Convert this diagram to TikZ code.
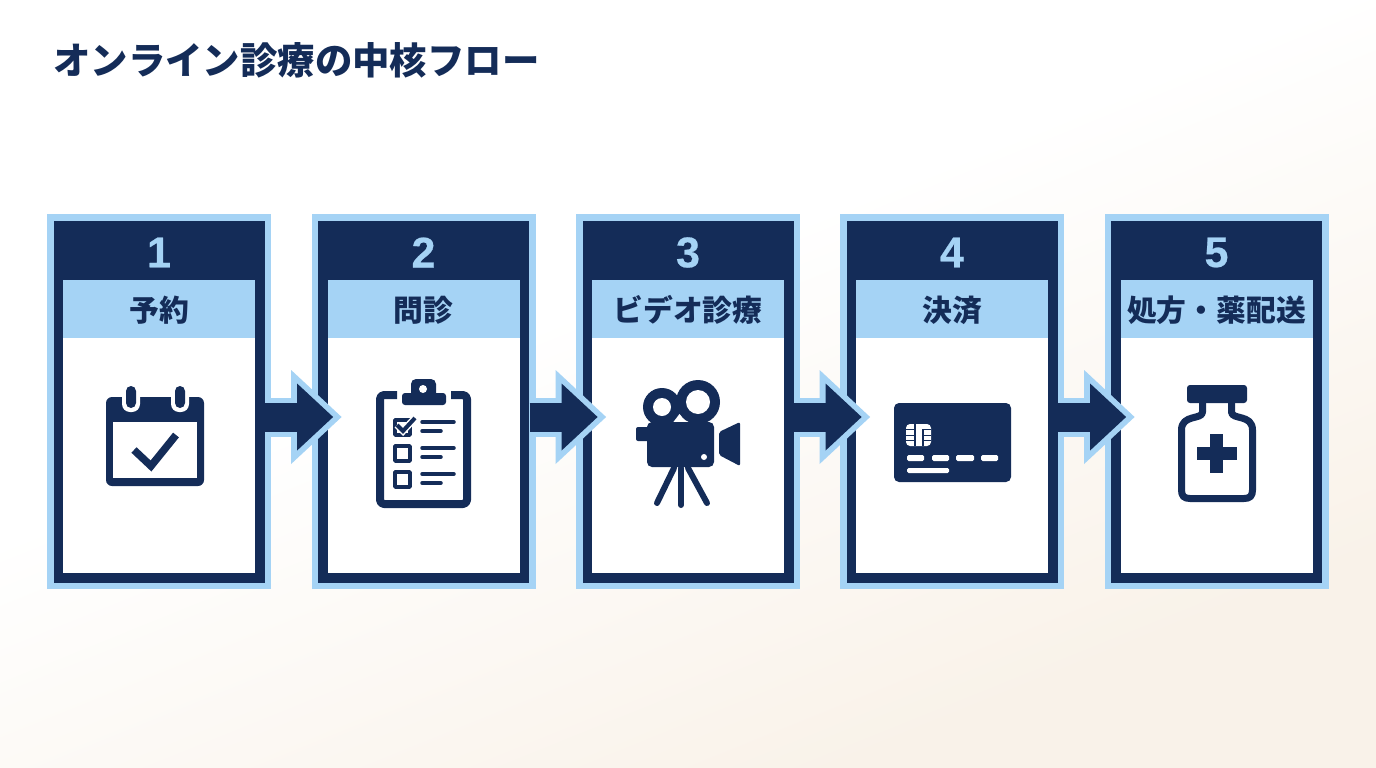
\documentclass[tikz,border=0pt]{standalone}
\usepackage{fontspec}
\setmainfont{Noto Sans CJK JP}
\newfontfamily\numfont{Liberation Sans}[BoldFeatures={FakeBold=0.5}]
\usetikzlibrary{arrows.meta}
\definecolor{navy}{HTML}{142C58}
\definecolor{skyblue}{HTML}{A5D3F5}
\definecolor{sandbg}{HTML}{F9F2E9}
\pgfdeclareverticalshading{pagebg}{100bp}{color(0bp)=(sandbg); color(28bp)=(sandbg); color(56bp)=(white); color(100bp)=(white)}
\tikzset{
  cardbox/.style={draw=skyblue,fill=navy,line width=6.5pt,minimum width=217.5pt,minimum height=368.5pt,inner sep=0pt,outer sep=3.25pt},
  bandbox/.style={fill=skyblue,text=navy,minimum width=192pt,minimum height=58pt,inner sep=0pt,font=\fontsize{29.8}{31}\selectfont\bfseries,text height=26pt,text depth=2pt},
  bodybox/.style={fill=white,minimum width=192pt,minimum height=235pt,inner sep=0pt},
  numtext/.style={text=skyblue,inner sep=0pt,font=\numfont\fontsize{43}{45}\selectfont\bfseries},
  linkouter/.style={draw=skyblue,line width=39pt,shorten >=-30.1pt,-{Triangle[length=50.5pt,width=94pt,line width=0pt]}},
  linkinner/.style={draw=navy,line width=29pt,shorten >=-21.6pt,-{Triangle[length=36pt,width=67pt,line width=0pt]}},
  icon/.style={fill=navy},
  iconhole/.style={fill=white},
  iconline/.style={draw=navy,line width=#1,line cap=round,line join=round},
  iconline/.default=3.5pt,
}
\begin{document}
\begin{tikzpicture}[x=1pt,y=-1pt]
  \useasboundingbox (0,0) rectangle (1376,768);
  \shade[shading=pagebg,shading angle=22] (0,0) rectangle (1376,768);

  \node[anchor=west,inner sep=0pt,text=navy,font=\fontsize{37.4}{40}\selectfont\bfseries] (title) at (53,60) {オンライン診療の中核フロー};

  % cards
  \node[cardbox] (card1) at (159,401.5) {};
  \node[cardbox] (card2) at (423.5,401.5) {};
  \node[cardbox] (card3) at (688,401.5) {};
  \node[cardbox] (card4) at (952,401.5) {};
  \node[cardbox] (card5) at (1216.5,401.5) {};

  \node[numtext] (num1) at (159,252.5) {1};
  \node[numtext] (num2) at (423.5,252.5) {2};
  \node[numtext] (num3) at (688,252.5) {3};
  \node[numtext] (num4) at (952,252.5) {4};
  \node[numtext] (num5) at (1216.5,252.5) {5};

  \node[bandbox] (band1) at (159,309) {予約};
  \node[bandbox] (band2) at (423.5,309) {問診};
  \node[bandbox] (band3) at (688,309) {ビデオ診療};
  \node[bandbox] (band4) at (952,309) {決済};
  \node[bandbox] (band5) at (1216.5,309) {処方・薬配送};

  \node[bodybox] (body1) at (159,455.5) {};
  \node[bodybox] (body2) at (423.5,455.5) {};
  \node[bodybox] (body3) at (688,455.5) {};
  \node[bodybox] (body4) at (952,455.5) {};
  \node[bodybox] (body5) at (1216.5,455.5) {};

  % arrows between cards
  \draw[linkouter] ([yshift=-15.5pt]card1.east) -- ([yshift=-15.5pt]card2.west);
  \draw[linkinner] ([yshift=-15.5pt,xshift=-6pt]card1.east) -- ([yshift=-15.5pt]card2.west);
  \draw[linkouter] ([yshift=-15.5pt]card2.east) -- ([yshift=-15.5pt]card3.west);
  \draw[linkinner] ([yshift=-15.5pt,xshift=-6pt]card2.east) -- ([yshift=-15.5pt]card3.west);
  \draw[linkouter] ([yshift=-15.5pt]card3.east) -- ([yshift=-15.5pt]card4.west);
  \draw[linkinner] ([yshift=-15.5pt,xshift=-6pt]card3.east) -- ([yshift=-15.5pt]card4.west);
  \draw[linkouter] ([yshift=-15.5pt]card4.east) -- ([yshift=-15.5pt]card5.west);
  \draw[linkinner] ([yshift=-15.5pt,xshift=-6pt]card4.east) -- ([yshift=-15.5pt]card5.west);

  % calendar
  \fill[icon,rounded corners=6pt] (106,397) rectangle (204,486);
  \fill[iconhole] (113,422) rectangle (197,478);
  \fill[iconhole,rounded corners=8pt] (122,380) rectangle (140,412);
  \fill[iconhole,rounded corners=8pt] (171,380) rectangle (189,412);
  \fill[iconhole] (118,380) rectangle (194,397);
  \fill[icon,rounded corners=5pt] (126,386) rectangle (136,408);
  \fill[icon,rounded corners=5pt] (175,386) rectangle (185,408);
  \draw[iconline=7.5pt,line cap=butt,line join=miter] (134,450) -- (151,466) -- (176,435);

  % clipboard
  \draw[iconline=8pt,line cap=butt,rounded corners=4pt] (397,395) -- (380,395) -- (380,504) -- (467,504) -- (467,395) -- (451,395);
  \fill[icon,rounded corners=3pt] (402,393) rectangle (446,405);
  \fill[icon,rounded corners=5pt] (411,379) rectangle (436,398);
  \fill[iconhole] (423,389) circle (4);
  \draw[iconline=3.5pt,line cap=butt] (395,420) rectangle (410,435);
  \draw[iconline=3.5pt,line cap=butt] (395,446) rectangle (410,461);
  \draw[iconline=3.5pt,line cap=butt] (395,472) rectangle (410,487);
  \draw[draw=white,line width=7pt] (397,425) -- (403,431) -- (415,418);
  \draw[iconline=4pt,line cap=butt,line join=miter] (397,425) -- (403,431) -- (415,418);
  \draw[iconline] (422,422) -- (454,422);
  \draw[iconline] (422,431) -- (441,431);
  \draw[iconline] (422,448) -- (454,448);
  \draw[iconline] (422,457) -- (441,457);
  \draw[iconline] (422,474) -- (454,474);
  \draw[iconline] (422,483) -- (441,483);

  % camera
  \fill[icon] (662,407) circle (19);
  \fill[icon] (698,402) circle (22);
  \fill[iconhole] (662,407) circle (9);
  \fill[iconhole] (698,402) circle (12);
  \fill[iconhole] (679.5,414) -- (686,422.5) -- (673,422.5) -- cycle;
  \fill[icon,rounded corners=5pt] (647,422) rectangle (714,467);
  \fill[icon,rounded corners=2pt] (636,427) rectangle (650,441);
  \fill[icon,rounded corners=2pt] (719,432) -- (740,422) -- (740,466) -- (719,455) -- cycle;
  \fill[iconhole] (704,457) circle (3);
  \draw[iconline=6pt] (674,468) -- (657,503);
  \draw[iconline=6pt] (681,468) -- (681,505);
  \draw[iconline=6pt] (688,468) -- (707,503);

  % credit card
  \fill[icon,rounded corners=5pt] (894,403) rectangle (1011,482);
  \fill[iconhole,rounded corners=4pt] (906,424) rectangle (931,446);
  \fill[icon] (914,424) rectangle (915.5,446);
  \fill[icon] (922,429) rectangle (923.5,446);
  \fill[icon] (906,429) rectangle (914,430);
  \fill[icon] (906,434.5) rectangle (914,435.5);
  \fill[icon] (906,440) rectangle (914,441);
  \fill[icon] (923,429) rectangle (931,430);
  \fill[icon] (923,434.5) rectangle (931,435.5);
  \fill[icon] (923,440) rectangle (931,441);
  \fill[iconhole,rounded corners=1.5pt] (907,455) rectangle (924,461);
  \fill[iconhole,rounded corners=1.5pt] (932,455) rectangle (949,461);
  \fill[iconhole,rounded corners=1.5pt] (956,455) rectangle (974,461);
  \fill[iconhole,rounded corners=1.5pt] (981,455) rectangle (998,461);
  \fill[iconhole,rounded corners=1.5pt] (907,468) rectangle (949,473);

  % bottle
  \fill[icon,rounded corners=3pt] (1187,385) rectangle (1247,403);
  \draw[iconline=7pt,line cap=butt] (1202.5,402) -- (1202.5,412) .. controls (1202.5,420) and (1181.5,414) .. (1181.5,430) -- (1181.5,490) .. controls (1181.5,496) and (1184,498.5) .. (1190,498.5) -- (1244,498.5) .. controls (1250,498.5) and (1252.5,496) .. (1252.5,490) -- (1252.5,430) .. controls (1252.5,414) and (1231.5,420) .. (1231.5,412) -- (1231.5,402);
  \fill[icon] (1197,447) rectangle (1237,460);
  \fill[icon] (1210,434) rectangle (1223,473);
\end{tikzpicture}
\end{document}
